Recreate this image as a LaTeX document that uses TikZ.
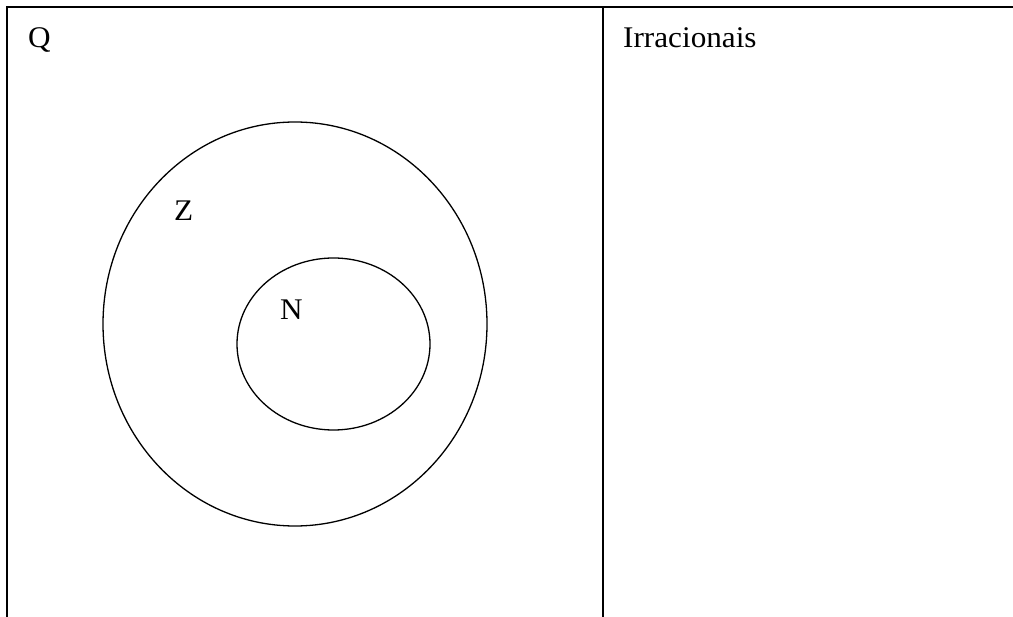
\documentclass[tikz,border=0pt]{standalone}
\usepackage{fontspec}
\setmainfont{Liberation Serif}
\usetikzlibrary{shapes.geometric}
\newcommand{\largo}[1]{\scalebox{1.04}[1]{#1}}

\begin{document}
\begin{tikzpicture}[
    x=1pt, y=-1pt,
    frame/.style={line width=1.6pt, color=black},
    conj/.style={draw, ellipse, line width=1.3pt, inner sep=0pt},
    rotulo/.style={anchor=base west, inner sep=0pt, font=\fontsize{30}{35}\selectfont}
  ]
    \useasboundingbox (0,0) rectangle (1013,617);
    % quadro
    \coordinate (tl) at (7,7.3);
    \coordinate (tr) at (1013,7.3);
    \coordinate (bl) at (7,617);
    \coordinate (mt) at (603,7.3);
    \coordinate (mb) at (603,617);
    \draw[frame] (bl) -- (tl) -- (tr);
    \draw[frame] (mt) -- (mb);
    % conjuntos
    \node[conj, minimum width=384pt, minimum height=404pt] (inteiros) at (295,324) {};
    \node[conj, minimum width=193pt, minimum height=172pt] (naturais) at (333.5,344) {};
    \node[rotulo] (q) at (28,47.5) {\largo{Q}};
    \node[rotulo] (irr) at (623,47.5) {\largo{Irracionais}};
    \node[rotulo] (z) at (174,221) {\largo{Z}};
    \node[rotulo] (n) at (280,320) {\largo{N}};
  \end{tikzpicture}
\end{document}
